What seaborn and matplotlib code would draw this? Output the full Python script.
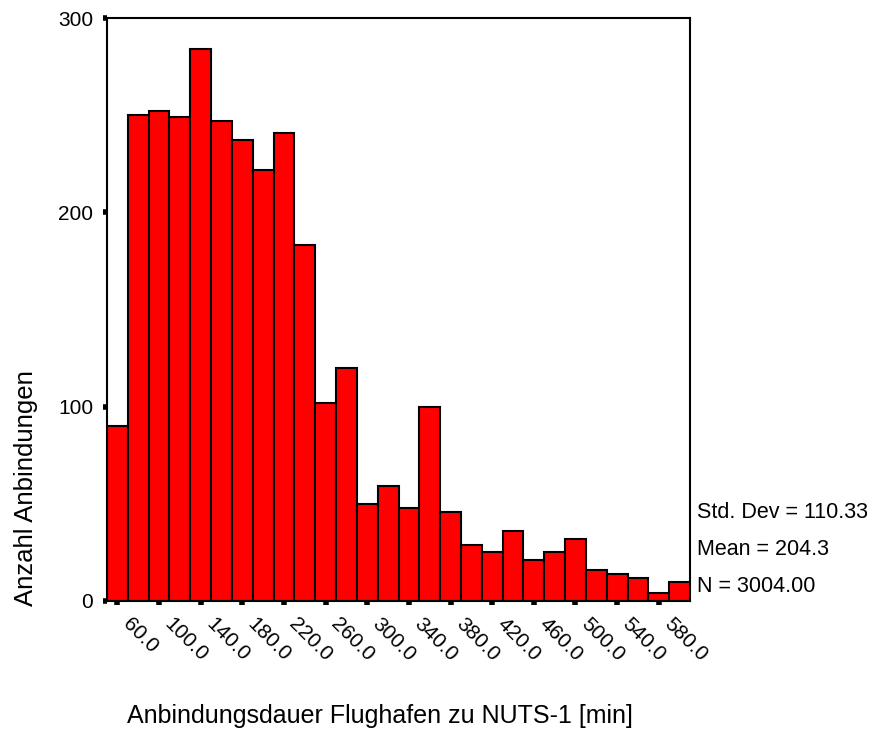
import pandas as pd
import matplotlib
matplotlib.use("Agg")
import matplotlib.pyplot as plt
import matplotlib.transforms as mtransforms
import seaborn as sns

# Binned connection durations (bin centres in minutes, counts per 20-min bin)
bin_centers = [60, 80, 100, 120, 140, 160, 180, 200, 220, 240, 260, 280, 300, 320,
               340, 360, 380, 400, 420, 440, 460, 480, 500, 520, 540, 560, 580, 600]
counts = [90, 250, 252, 249, 284, 247, 237, 222, 241, 183, 102, 120, 50, 59,
          48, 100, 46, 29, 25, 36, 21, 25, 32, 16, 14, 12, 4, 10]
x_tick_values = [60, 100, 140, 180, 220, 260, 300, 340, 380, 420, 460, 500, 540, 580]
y_tick_values = [0, 100, 200, 300]
stats_lines = ["Std. Dev = 110.33", "Mean = 204.3", "N = 3004.00"]

df = pd.DataFrame({"dauer": bin_centers, "anzahl": counts})

sns.set_theme(style="white")
plt.rcParams["font.family"] = ["Liberation Sans", "DejaVu Sans"]
plt.rcParams["text.color"] = "black"

fig = plt.figure(figsize=(8.72, 7.29), dpi=100)
ax = fig.add_axes([107 / 872, 1 - 601 / 729, (690 - 107) / 872, (601 - 18) / 729])

sns.histplot(data=df, x="dauer", weights="anzahl", binwidth=20, binrange=(50, 610),
             ax=ax, color="#ff0000", alpha=1.0, edgecolor="black", linewidth=1.5)

ax.set_xlim(50, 610)
ax.set_ylim(0, 300)

ax.set_xticks(x_tick_values)
ax.set_xticklabels([f"{v:.1f}" for v in x_tick_values], rotation=-45,
                   ha="left", va="top", rotation_mode="anchor", fontsize=15)
ax.set_yticks(y_tick_values)
ax.set_yticklabels([str(v) for v in y_tick_values], fontsize=15)

ax.tick_params(axis="x", direction="out", length=3, width=4, color="black",
               labelcolor="black", pad=7, bottom=True)
ax.tick_params(axis="y", direction="out", length=3, width=4, color="black",
               labelcolor="black", pad=7, left=True)

# nudge the slanted labels to the right of their ticks
shift = mtransforms.ScaledTranslation(15 / 100, 0, fig.dpi_scale_trans)
for lbl in ax.get_xticklabels():
    lbl.set_transform(lbl.get_transform() + shift)

for side in ["left", "right", "top", "bottom"]:
    ax.spines[side].set_visible(True)
    ax.spines[side].set_color("black")
    ax.spines[side].set_linewidth(1.5)

ax.set_xlabel("")
ax.set_ylabel("")
ax.grid(False)

fig.text(380 / 872, 1 - 716 / 729,
         "Anbindungsdauer Flughafen zu NUTS-1 [min]",
         ha="center", va="center", fontsize=18)
fig.text(26 / 872, 1 - 606 / 729, "Anzahl Anbindungen",
         rotation=90, ha="center", va="bottom", fontsize=18.5)

for i, line in enumerate(stats_lines):
    fig.text(697 / 872, 1 - (512 + 37.5 * i) / 729, line,
             ha="left", va="center", fontsize=15.5)

fig.savefig("out.png", dpi=100)
